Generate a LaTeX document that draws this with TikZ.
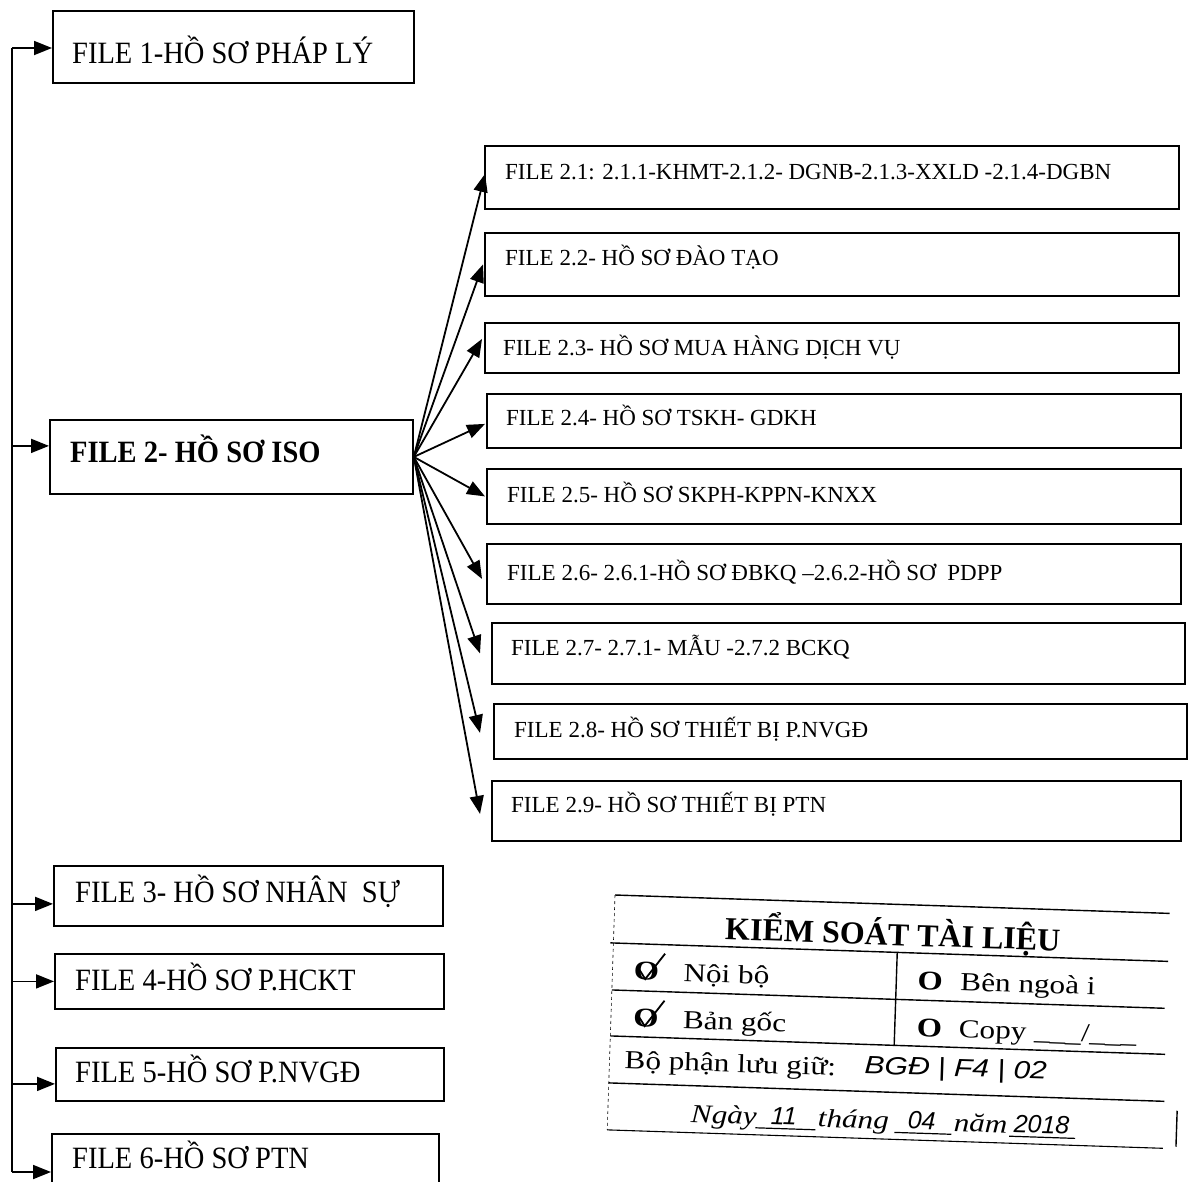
\documentclass[tikz,border=0pt]{standalone}
\usepackage{fontspec}
\usepackage{graphicx}
\setmainfont{Liberation Serif}
\newfontfamily\handfont{Liberation Sans}
\usetikzlibrary{arrows.meta}
\newcommand{\fsz}[1]{\fontsize{#1}{#1}\selectfont}
\newcommand{\wide}[1]{\scalebox{1.2}[1]{#1}}
\newcommand{\nar}[1]{\scalebox{0.92}[1]{#1}}
\begin{document}
\begin{tikzpicture}[x=1pt,y=-1pt,
  filebox/.style={draw, line width=1.8pt, inner sep=0pt, anchor=north west},
  lbl/.style={anchor=base west, inner sep=0pt, font=\fsz{31}},
  rlbl/.style={anchor=base west, inner sep=0pt, font=\fsz{23}},
  arr/.style={line width=1.8pt, -{Triangle[length=18pt,width=14pt]}},
  stl/.style={line width=1.4pt},
  stxt/.style={inner sep=0pt, transform shape, font=\fsz{26}},
  hand/.style={inner sep=0pt, transform shape, font=\handfont\itshape\fsz{25}},
]
\useasboundingbox (0,0) rectangle (1188,1181);
\clip (0,0) rectangle (1188,1181);

% left column boxes
\node[filebox, minimum width=361pt, minimum height=72pt] (f1) at (52,10) {};
\node[filebox, minimum width=363pt, minimum height=74pt] (f2) at (49,419) {};
\node[filebox, minimum width=389pt, minimum height=60pt] (f3) at (53,865) {};
\node[filebox, minimum width=389pt, minimum height=55pt] (f4) at (54,953) {};
\node[filebox, minimum width=388pt, minimum height=53pt] (f5) at (55,1047) {};
\node[filebox, minimum width=387pt, minimum height=62pt] (f6) at (51,1133) {};

\node[lbl] (t1) at (72,63) {\nar{FILE 1-HỒ SƠ PHÁP LÝ}};
\node[lbl, font=\fsz{31}\bfseries] (t2) at (70,462) {\nar{FILE 2- HỒ SƠ ISO}};
\node[lbl] (t3) at (75,902) {\nar{FILE 3- HỒ SƠ NHÂN\ \ SỰ}};
\node[lbl] (t4) at (75,990) {\nar{FILE 4-HỒ SƠ P.HCKT}};
\node[lbl] (t5) at (75,1082) {\nar{FILE 5-HỒ SƠ P.NVGĐ}};
\node[lbl] (t6) at (72,1168) {\nar{FILE 6-HỒ SƠ PTN}};

% right column boxes
\node[filebox, minimum width=694pt, minimum height=63pt] (r1) at (484,145) {};
\node[filebox, minimum width=694pt, minimum height=63pt] (r2) at (484,232) {};
\node[filebox, minimum width=694pt, minimum height=50pt] (r3) at (484,322) {};
\node[filebox, minimum width=694pt, minimum height=54pt] (r4) at (486,393) {};
\node[filebox, minimum width=694pt, minimum height=55pt] (r5) at (486,468) {};
\node[filebox, minimum width=694pt, minimum height=60pt] (r6) at (486,543) {};
\node[filebox, minimum width=693pt, minimum height=61pt] (r7) at (491,622) {};
\node[filebox, minimum width=693pt, minimum height=55pt] (r8) at (493,703) {};
\node[filebox, minimum width=689pt, minimum height=60pt] (r9) at (491,780) {};

\node[rlbl] (s1) at (505,179) {FILE 2.1: 2.1.1-KHMT-2.1.2- DGNB-2.1.3-XXLD -2.1.4-DGBN};
\node[rlbl] (s2) at (505,265) {FILE 2.2- HỒ SƠ ĐÀO TẠO};
\node[rlbl] (s3) at (503,355) {FILE 2.3- HỒ SƠ MUA HÀNG DỊCH VỤ};
\node[rlbl] (s4) at (506,425) {FILE 2.4- HỒ SƠ TSKH- GDKH};
\node[rlbl] (s5) at (507,502) {FILE 2.5- HỒ SƠ SKPH-KPPN-KNXX};
\node[rlbl] (s6) at (507,580) {FILE 2.6- 2.6.1-HỒ SƠ ĐBKQ –2.6.2-HỒ SƠ\ \ PDPP};
\node[rlbl] (s7) at (511,655) {FILE 2.7- 2.7.1- MẪU -2.7.2 BCKQ};
\node[rlbl] (s8) at (514,737) {FILE 2.8- HỒ SƠ THIẾT BỊ P.NVGĐ};
\node[rlbl] (s9) at (511,812) {FILE 2.9- HỒ SƠ THIẾT BỊ PTN};

% spine and left arrows
\coordinate (top) at (12,48);
\coordinate (bot) at (12,1172);
\draw[line width=1.8pt] (top) -- (bot);
\draw[arr] (top) -- (top -| f1.west);
\coordinate (a2) at ([yshift=11pt]f2.west);
\draw[arr] (a2 -| top) -- (a2);
\coordinate (a3) at ([yshift=-8pt]f3.west);
\draw[arr] (a3 -| top) -- (a3);
\draw[arr] (f4.west -| top) -- (f4.west);
\coordinate (a5) at ([yshift=-9.5pt]f5.west);
\draw[arr] (a5 -| top) -- (a5);
\draw[arr] (bot) -- (bot -| f6.west);

% fan from FILE 2
\draw[arr] (f2.east) -- ([xshift=1pt,yshift=3.5pt]r1.west);
\draw[arr] (f2.east) -- ([xshift=-1pt]r2.west);
\draw[arr] (f2.east) -- ([xshift=-2pt,yshift=9pt]r3.west);
\draw[arr] (f2.east) -- ([xshift=-1pt,yshift=-3pt]r4.west);
\draw[arr] (f2.east) -- ([xshift=-1pt]r5.west);
\draw[arr] (f2.east) -- ([xshift=-4pt,yshift=-5pt]r6.west);
\draw[arr] (f2.east) -- ([xshift=-11pt]r7.west);
\draw[arr] (f2.east) -- ([xshift=-13pt,yshift=-1.5pt]r8.west);
\draw[arr] (f2.east) -- ([xshift=-11pt,yshift=-3pt]r9.west);

% document control stamp
\begin{scope}[shift={(615,895)}, rotate=-1.9]
  \draw[stl] (0,0) -- (555,0);
  \draw[stl] (-3,48) -- (555,48);
  \draw[stl] (0,95) -- (553,95);
  \draw[stl] (0,141) -- (555,141);
  \draw[stl] (0,188) -- (556,188);
  \draw[line width=1.1pt] (0,235) -- (556,235);
  \draw[line width=0.6pt, dash pattern=on 3pt off 3pt] (0,0) -- (0,235);
  \draw[stl] (284,48) -- (284,141);
  \draw[stl] (569,197) -- (569,233);

  \node[stxt, anchor=base, font=\fsz{32}\bfseries] (ttl) at (279,41) {KIỂM SOÁT TÀI LIỆU};

  \node[stxt, anchor=base, font=\fsz{27}\bfseries] (c1) at (34,84) {\wide{O}};
  \draw[line width=1.8pt] (27,74) -- (33,83) -- (52,57);
  \node[stxt, anchor=base west] (n1) at (71,84) {\wide{Nội bộ}};
  \node[stxt, anchor=base, font=\fsz{27}\bfseries] (c2) at (35,131) {\wide{O}};
  \draw[line width=1.8pt] (28,121) -- (34,130) -- (53,104);
  \node[stxt, anchor=base west] (n2) at (72,131) {\wide{Bản gốc}};

  \node[stxt, anchor=base west, font=\fsz{27}\bfseries] (o1) at (305,84) {\wide{O}};
  \node[stxt, anchor=base west] (n3) at (348,84) {\wide{Bên ngoà i}};
  \node[stxt, anchor=base west, font=\fsz{27}\bfseries] (o2) at (306,131) {\wide{O}};
  \node[stxt, anchor=base west] (n4) at (348,131) {\wide{Copy \_\_\_/\_\_\_}};

  \node[stxt, anchor=base west] (bp) at (15,173) {\wide{Bộ phận lưu giữ:}};
  \node[hand, anchor=base west] (bgd) at (255,170) {\wide{BGĐ | F4 | 02}};

  \node[stxt, anchor=base west, font=\fsz{26}\itshape] (ng) at (83,225) {\wide{Ngày}};
  \draw[line width=1.2pt] (148,228) -- (208,228);
  \node[hand, anchor=base] (d1) at (176,224) {11};
  \node[stxt, anchor=base west, font=\fsz{26}\itshape] (th) at (210,225) {\wide{tháng}};
  \draw[line width=1.2pt] (287,228) -- (344,228);
  \node[hand, anchor=base] (d2) at (314,224) {04};
  \node[stxt, anchor=base west, font=\fsz{26}\itshape] (nm) at (346,225) {\wide{năm}};
  \draw[line width=1.2pt] (402,228) -- (468,228);
  \node[hand, anchor=base] (d3) at (434,224) {2018};
\end{scope}
\end{tikzpicture}
\end{document}
